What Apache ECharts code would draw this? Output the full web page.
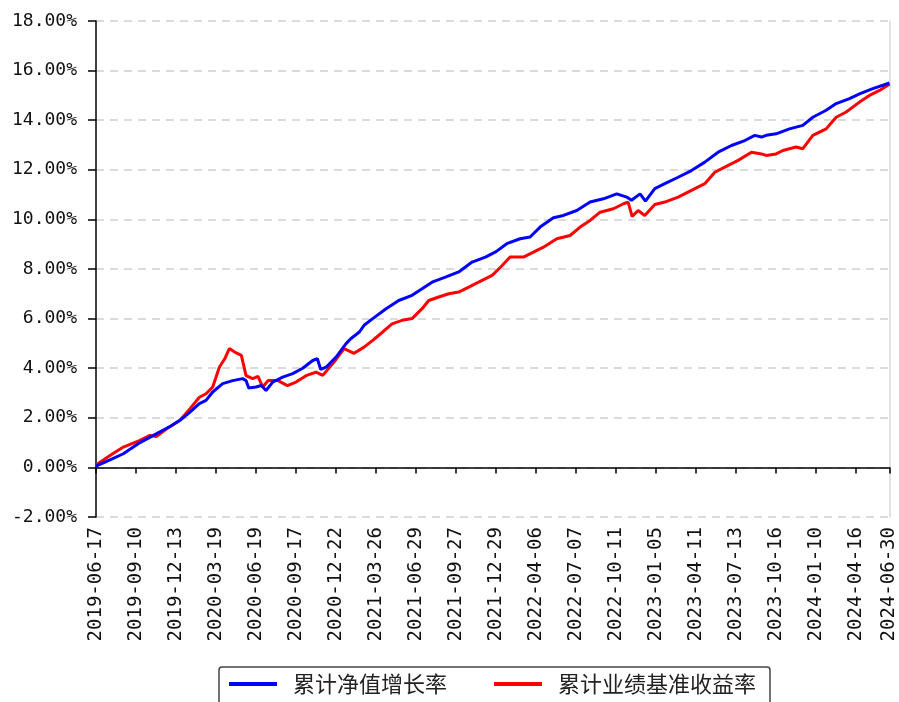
<!DOCTYPE html>
<html>
<head>
<meta charset="utf-8">
<script src="https://cdn.jsdelivr.net/npm/echarts@6/dist/echarts.min.js"></script>
<style>
  html, body { margin: 0; padding: 0; background: #fff; }
  #main { width: 899px; height: 702px; }
</style>
</head>
<body>
<div id="main"></div>
<script>
// 交易日序号对应的刻度标签
const tickIndex = [0, 60, 120, 180, 240, 300, 360, 420, 480, 540, 600, 660, 720, 780, 840, 900, 960, 1020, 1080, 1140, 1190];
const tickLabels = ['2019-06-17', '2019-09-10', '2019-12-13', '2020-03-19', '2020-06-19', '2020-09-17',
  '2020-12-22', '2021-03-26', '2021-06-29', '2021-09-27', '2021-12-29', '2022-04-06', '2022-07-07',
  '2022-10-11', '2023-01-05', '2023-04-11', '2023-07-13', '2023-10-16', '2024-01-10', '2024-04-16', '2024-06-30'];

// 累计净值增长率 [交易日序号, %]
const navGrowth = [
  [0, 0.05], [21, 0.3], [41, 0.55], [66, 1.0], [91, 1.36], [111, 1.65], [126, 1.9], [141, 2.23],
  [155, 2.57], [165, 2.7], [175, 3.04], [190, 3.38], [205, 3.5], [220, 3.58], [225, 3.5], [229, 3.2],
  [240, 3.24], [248, 3.3], [255, 3.1], [265, 3.44], [280, 3.64], [295, 3.78], [310, 4.0], [325, 4.31],
  [332, 4.38], [337, 3.95], [345, 4.04], [360, 4.45], [375, 4.99], [382, 5.19], [395, 5.46], [402, 5.73],
  [415, 6.0], [435, 6.4], [454, 6.73], [474, 6.94], [489, 7.2], [504, 7.47], [524, 7.67], [544, 7.88],
  [564, 8.28], [584, 8.48], [600, 8.7], [616, 9.02], [636, 9.22], [651, 9.29], [666, 9.69], [686, 10.07],
  [701, 10.16], [721, 10.36], [741, 10.7], [761, 10.83], [781, 11.03], [796, 10.9], [803, 10.77],
  [816, 11.03], [824, 10.74], [838, 11.24], [853, 11.44], [873, 11.7], [893, 11.97], [913, 12.31],
  [933, 12.71], [953, 12.98], [973, 13.18], [988, 13.39], [998, 13.32], [1005, 13.39], [1020, 13.45],
  [1040, 13.65], [1060, 13.79], [1075, 14.12], [1095, 14.4], [1110, 14.67], [1130, 14.87], [1145, 15.06],
  [1165, 15.27], [1190, 15.5]
];

// 累计业绩基准收益率 [交易日序号, %]
const benchReturn = [
  [0, 0.1], [21, 0.48], [41, 0.82], [66, 1.09], [81, 1.29], [91, 1.25], [106, 1.56], [126, 1.9],
  [141, 2.37], [155, 2.83], [165, 2.97], [175, 3.24], [185, 4.04], [193, 4.38], [200, 4.79], [208, 4.65],
  [218, 4.52], [225, 3.7], [235, 3.58], [243, 3.67], [250, 3.24], [258, 3.5], [273, 3.5], [287, 3.3],
  [300, 3.44], [315, 3.7], [330, 3.84], [340, 3.71], [357, 4.25], [372, 4.79], [387, 4.6], [402, 4.85],
  [415, 5.12], [430, 5.46], [444, 5.79], [459, 5.93], [474, 6.0], [489, 6.4], [499, 6.73], [514, 6.87],
  [529, 7.0], [544, 7.07], [559, 7.27], [579, 7.54], [594, 7.74], [607, 8.08], [621, 8.48], [641, 8.48],
  [656, 8.68], [671, 8.88], [691, 9.22], [711, 9.35], [726, 9.69], [741, 9.96], [756, 10.29], [776, 10.43],
  [791, 10.63], [798, 10.7], [804, 10.12], [813, 10.36], [823, 10.16], [838, 10.6], [853, 10.7],
  [873, 10.9], [893, 11.17], [913, 11.44], [928, 11.9], [943, 12.11], [963, 12.38], [983, 12.71],
  [998, 12.64], [1005, 12.58], [1020, 12.64], [1030, 12.78], [1050, 12.92], [1060, 12.85], [1075, 13.39],
  [1095, 13.65], [1110, 14.12], [1125, 14.33], [1145, 14.73], [1160, 15.0], [1175, 15.2], [1190, 15.45]
];

const FONT = '"Noto Sans CJK SC", "Noto Sans", sans-serif';
const NUM_FONT = '"DejaVu Sans Mono", monospace';

const chart = echarts.init(document.getElementById('main'));
const option = {
  animation: false,
  textStyle: { fontFamily: FONT },
  grid: { left: 96, right: 7, top: 21, bottom: 185 },
  legend: {
    top: 667,
    left: 219,
    icon: 'rect',
    itemWidth: 48,
    itemHeight: 4,
    itemGap: 47,
    padding: [6, 14, 20, 10],
    borderColor: '#444',
    borderWidth: 1.5,
    borderRadius: 3,
    textStyle: { fontSize: 22, color: '#222', fontFamily: FONT, padding: [0, 0, 0, 11] },
    data: ['累计净值增长率', '累计业绩基准收益率']
  },
  xAxis: {
    type: 'value',
    min: 0,
    max: 1190,
    axisLine: { lineStyle: { color: '#000', width: 1.5 } },
    axisTick: { customValues: tickIndex, length: 6, lineStyle: { color: '#000', width: 1.5 } },
    axisLabel: {
      customValues: tickIndex,
      rotate: 90,
      margin: 10,
      fontSize: 19,
      color: '#111',
      fontFamily: NUM_FONT,
      formatter: (v) => tickLabels[tickIndex.indexOf(v)] || ''
    },
    splitLine: { show: false }
  },
  yAxis: [{
    type: 'value',
    min: -2,
    max: 18,
    interval: 2,
    axisLine: { show: true, lineStyle: { color: '#000', width: 1.5 } },
    axisTick: { show: true, length: 8, lineStyle: { color: '#000', width: 1.5 } },
    axisLabel: {
      margin: 19,
      fontSize: 18,
      color: '#111',
      fontFamily: NUM_FONT,
      formatter: (v) => v.toFixed(2) + '%'
    },
    splitLine: { lineStyle: { color: '#d0d0d0', type: [8, 6], width: 1.5 } }
  }, {
    type: 'value',
    position: 'right',
    min: -2,
    max: 18,
    interval: 2,
    axisLine: { show: true, lineStyle: { color: '#d8d8d8', width: 1.5 } },
    axisTick: { show: false },
    axisLabel: { show: false },
    splitLine: { show: false }
  }],
  series: [{
    name: '累计净值增长率',
    type: 'line',
    data: navGrowth,
    showSymbol: false,
    lineStyle: { color: '#0000ff', width: 3 },
    itemStyle: { color: '#0000ff' },
    z: 3
  }, {
    name: '累计业绩基准收益率',
    type: 'line',
    data: benchReturn,
    showSymbol: false,
    lineStyle: { color: '#ff0000', width: 3 },
    itemStyle: { color: '#ff0000' },
    z: 2
  }]
};
chart.setOption(option);
</script>
</body>
</html>
